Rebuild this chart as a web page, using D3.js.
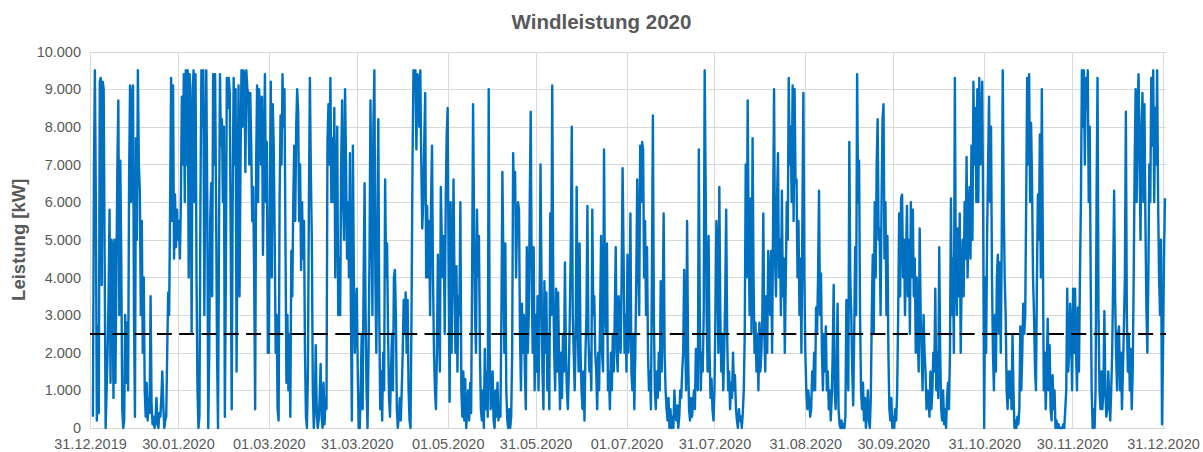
<!DOCTYPE html>
<html>
<head>
<meta charset="utf-8">
<script src="https://cdn.jsdelivr.net/npm/d3@7"></script>
<style>
  body { margin: 0; background: #fff; }
  text { font-family: "Liberation Sans", Arial, sans-serif; }
</style>
</head>
<body>
<div class="chart"></div>
<script>
// Windleistung 2020, one value every 8 h (00, 08, 16 Uhr), in 100 kW
var jan = [3,68,95, 60,2,27, 4,92,93, 38,92,90, 45,0,10, 20,35,58, 12,50,48, 8,50,12, 40,69,87, 30,71,45,
  5,0,2, 30,12,28, 10,66,91, 60,88,91, 30,3,77, 50,95,70, 63,30,55, 20,40,10, 3,12,2, 8,4,35,
  6,1,3, 0,2,8, 1,0,4, 3,8,15, 6,0,2, 3,20,36, 30,60,93, 55,91,45, 62,48,58, 50,55,45,
  60,88,70];
var feb = [94,60,95, 70,95,40, 94,80,25, 90,95,60, 94,40,10, 0,3,60, 95,80,95, 30,70,95, 60,0,20, 55,65,35,
  94,70,94, 60,20,0, 50,94,75, 82,60,80, 3,40,93, 85,93,89, 50,5,60, 93,70,90, 15,60,91, 35,70,95,
  80,95,94, 68,95,90, 89,70,89, 75,55,64, 40,5,70, 91,60,90, 85,70,88, 46,70,94, 60,76,20];
var mar = [20,60,92, 40,86,75, 50,20,30, 5,2,60, 83,70,94, 80,90,50, 12,30,10, 25,3,47, 35,60,75, 55,80,90,
  84,55,70, 42,60,45, 55,20,3, 0,15,60, 93,68,50, 10,0,5, 22,5,0, 2,8,17, 3,0,12, 1,8,5,
  76,86,70, 93,60,77, 60,85,40, 65,80,30, 45,30,70, 87,60,50, 90,70,45, 60,40,73, 30,2,75, 40,20,30,
  37,15,0];
var apr = [0,10,25, 5,40,65, 30,10,0, 20,45,87, 60,30,80, 95,40,20, 50,82,30, 5,15,2, 20,10,66, 40,49,25,
  8,3,15, 25,10,40, 42,30,5, 0,3,8, 2,10,20, 34,25,36, 20,34,10, 2,0,30, 70,95,90, 95,74,94,
  93,80,95, 70,53,60, 75,89,40, 59,40,55, 30,60,75, 40,20,10, 5,20,46, 30,15,64, 50,40,51, 25,60,78];
var may = [85,40,7, 60,20,43, 66,38,20, 43,15,35, 30,60,10, 3,15,2, 13,0,5, 10,2,12, 4,40,86, 55,30,20,
  58,40,51, 20,5,2, 10,0,21, 5,15,3, 90,20,5, 8,15,2, 0,10,3, 12,2,6, 3,30,68, 45,20,49,
  10,2,0, 5,0,3, 20,73,60, 68,40,55, 60,58,25, 10,33,20, 30,15,5, 48,20,30, 60,84,40, 20,48,10,
  30,15,35];
var jun = [10,30,70, 40,15,5, 39,20,36, 10,25,5, 57,30,91, 40,20,10, 37,15,36, 18,5,20, 8,25,15, 44,20,10,
  5,15,30, 49,80,30, 20,10,25, 64,30,15, 49,20,10, 5,15,2, 20,30,59, 25,15,20, 10,58,30, 35,20,15,
  5,20,10, 30,51,20, 15,74,35, 25,49,10, 15,5,20, 10,25,15, 30,48,20, 15,35,25, 20,40,69, 46,20,30];
var jul = [15,46,20, 30,57,15, 10,25,5, 20,40,66, 45,30,75, 60,76,74, 40,55,30, 48,20,10, 15,5,41, 83,30,10,
  5,15,8, 20,10,39, 15,30,57, 20,10,5, 2,8,0, 5,0,3, 0,10,4, 2,6,0, 3,10,8, 15,20,42,
  25,10,55, 20,5,2, 8,3,6, 10,5,21, 15,10,74, 30,10,20, 15,30,95, 64,30,15, 51,20,8, 13,5,2,
  10,30,55];
var aug = [48,20,64, 30,15,25, 10,20,35, 58,25,10, 15,5,12, 8,20,10, 14,5,2, 0,5,2, 3,0,4, 10,25,70,
  40,87,50, 30,61,25, 77,40,20, 28,15,25, 10,28,15, 20,30,57, 25,15,35, 20,47,40, 30,47,20, 55,90,45,
  35,60,73, 40,50,30, 63,35,45, 20,40,60, 50,93,70, 80,60,91, 55,90,65, 66,40,55, 30,45,20, 56,89,40,
  20,10,5];
var sep = [10,7,3, 5,15,10, 20,10,32, 25,40,63, 30,41,20, 10,25,15, 27,10,15, 5,10,2, 8,20,38, 10,5,15,
  33,5,1, 0,2,0, 1,0,3, 34,20,10, 76,40,30, 15,6,25, 48,30,94, 60,71,30, 10,5,12, 2,8,0,
  4,10,2, 0,8,30, 46,25,60, 40,70,82, 50,53,30, 60,82,86, 45,60,30, 51,20,5, 2,8,0, 3,0,5];
var oct = [2,10,30, 57,35,61, 62,40,50, 30,45,59, 35,50,25, 60,40,58, 35,45,20, 40,25,15, 53,30,20, 10,30,20,
  15,5,10, 9,3,15, 5,10,20, 15,37,10, 20,8,48, 20,5,2, 10,1,5, 0,8,12, 5,20,61, 30,45,20,
  93,40,30, 53,35,57, 20,40,50, 35,60,45, 72,40,55, 64,45,75, 50,92,70, 85,60,90, 60,93,70, 75,92,55,
  0,40,20];
var nov = [51,70,88, 60,80,40, 20,10,30, 15,40,46, 25,44,20, 50,95,60, 40,30,10, 5,15,8, 15,5,25, 10,0,2,
  0,3,1, 5,27,10, 20,33,25, 30,60,93, 70,94,60, 81,65,40, 30,16,10, 40,62,50, 78,40,90, 50,10,20,
  5,15,29, 10,22,5, 2,14,5, 10,0,2, 0,1,0, 0,0,0, 1,0,5, 10,37,15, 20,33,25, 10,37,20];
var dec = [37,20,10, 32,15,40, 60,95,80, 95,70,93, 85,95,60, 80,40,10, 0,5,0, 10,60,93, 30,10,5, 15,5,10,
  31,10,3, 5,15,8, 2,10,20, 40,63,35, 20,10,25, 27,10,20, 5,15,27, 40,84,30, 15,25,10, 21,5,15,
  40,70,90, 60,85,94, 70,50,80, 89,60,86, 55,32,20, 40,70,60, 93,75,95, 60,85,70, 95,60,40, 30,50,1,
  20,45,61];

var xTickLabels = ["31.12.2019", "30.01.2020", "01.03.2020", "31.03.2020", "01.05.2020", "31.05.2020",
  "01.07.2020", "31.07.2020", "31.08.2020", "30.09.2020", "31.10.2020", "30.11.2020", "31.12.2020"];
var yTickValues = [0, 1000, 2000, 3000, 4000, 5000, 6000, 7000, 8000, 9000, 10000];
var threshold = 2500;

var width = 1203,
    height = 452;
var plotLeft = 90, plotRight = 1166, plotTop = 51.5, plotBottom = 428;

var parse = d3.utcParse("%d.%m.%Y");
var de = d3.formatLocale({decimal: ",", thousands: ".", grouping: [3], currency: ["", " €"]});

var x = d3.scaleUtc()
  .domain([parse("31.12.2019"), parse("31.12.2020")])
  .range([plotLeft, 1163]);
var y = d3.scaleLinear()
  .domain([0, 10000])
  .range([plotBottom, plotTop]);

var values = [].concat(jan, feb, mar, apr, may, jun, jul, aug, sep, oct, nov, dec);
var start = Date.UTC(2020, 0, 1);
var data = values.map(function(v, i) {
  return {t: new Date(start + i * 8 * 3600 * 1000), v: v * 100};
});

var svg = d3.select(".chart").append("svg")
  .attr("width", width)
  .attr("height", height);

// gridlines + y labels
var yAxis = svg.append("g")
  .attr("transform", "translate(" + plotLeft + ",0)")
  .call(d3.axisLeft(y).tickValues(yTickValues).tickFormat(de.format(","))
    .tickSize(-(plotRight - plotLeft)).tickPadding(9));
yAxis.select(".domain").remove();

var xAxis = svg.append("g")
  .attr("transform", "translate(0," + plotBottom + ")")
  .call(d3.axisBottom(x).tickValues(xTickLabels.map(parse)).tickFormat(d3.utcFormat("%d.%m.%Y"))
    .tickSize(-(plotBottom - plotTop)).tickPadding(10.5));
xAxis.select(".domain").remove();

svg.selectAll(".tick line")
  .attr("stroke", "#d9d9d9")
  .attr("stroke-width", 1)
  .attr("shape-rendering", "crispEdges");
svg.selectAll(".tick text")
  .style("font-family", "'Liberation Sans', Arial, sans-serif")
  .style("font-size", "14.5px")
  .style("fill", "#595959");

var line = d3.line()
  .x(function(d) { return x(d.t); })
  .y(function(d) { return y(d.v); });

svg.append("path")
  .datum(data)
  .attr("d", line)
  .attr("fill", "none")
  .attr("stroke", "#0070c0")
  .attr("stroke-width", 2.4)
  .attr("stroke-linejoin", "round");

svg.append("line")
  .attr("x1", plotLeft)
  .attr("x2", plotRight)
  .attr("y1", y(threshold))
  .attr("y2", y(threshold))
  .attr("stroke", "#000")
  .attr("stroke-width", 2)
  .attr("stroke-dasharray", "15,7.3");

svg.append("text")
  .attr("x", width / 2)
  .attr("y", 29)
  .attr("text-anchor", "middle")
  .style("font-size", "20.5px")
  .style("font-weight", "bold")
  .style("fill", "#595959")
  .text("Windleistung 2020");

svg.append("text")
  .attr("transform", "translate(25," + (plotTop + plotBottom) / 2 + ") rotate(-90)")
  .attr("text-anchor", "middle")
  .style("font-size", "18.5px")
  .style("font-weight", "bold")
  .style("fill", "#595959")
  .text("Leistung [kW]");
</script>
</body>
</html>
